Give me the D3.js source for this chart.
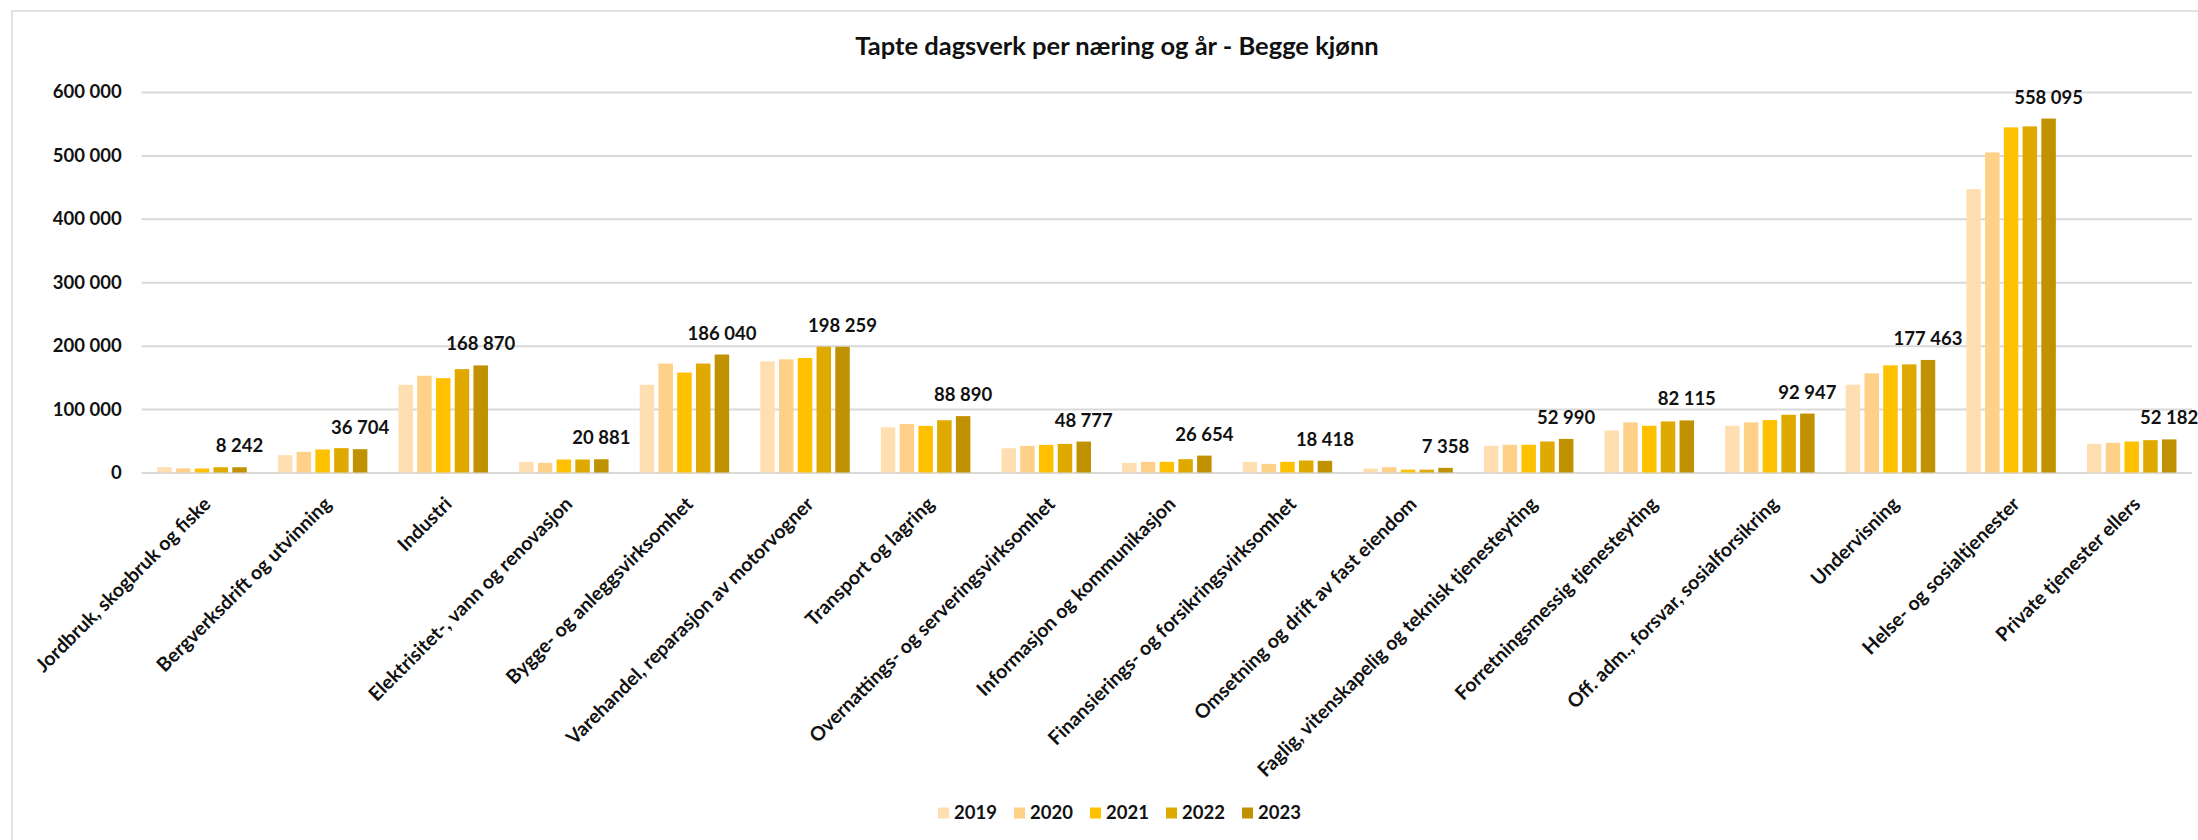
<!DOCTYPE html>
<html lang="no">
<head>
    <meta charset="UTF-8">
    <title>Tapte dagsverk per næring og år</title>
    <script src="https://cdnjs.cloudflare.com/ajax/libs/d3/7.8.5/d3.min.js"></script>
    <style>
        body { margin: 0; background: #fff; }
        text { font-family: Lato, "Open Sans", sans-serif; font-weight: 700; fill: #111; }
    </style>
</head>
<body>
    <div id="wrapper"></div>
    <script>
        // data
        const categories = [
            'Jordbruk, skogbruk og fiske',
            'Bergverksdrift og utvinning',
            'Industri',
            'Elektrisitet-, vann og renovasjon',
            'Bygge- og anleggsvirksomhet',
            'Varehandel, reparasjon av motorvogner',
            'Transport og lagring',
            'Overnattings- og serveringsvirksomhet',
            'Informasjon og kommunikasjon',
            'Finansierings- og forsikringsvirksomhet',
            'Omsetning og drift av fast eiendom',
            'Faglig, vitenskapelig og teknisk tjenesteyting',
            'Forretningsmessig tjenesteyting',
            'Off. adm., forsvar, sosialforsikring',
            'Undervisning',
            'Helse- og sosialtjenester',
            'Private tjenester ellers'
        ]
        const years = ['2019', '2020', '2021', '2022', '2023']

        const values2019 = [8500, 27300, 138300, 16800, 138300, 175300, 71400, 38300, 15200, 16800, 6300, 42100, 66300, 73700, 138400, 446800, 45300]
        const values2020 = [6500, 32600, 152500, 15200, 171800, 178500, 76600, 42000, 16800, 13600, 8400, 43700, 79000, 79000, 156300, 504700, 46800]
        const values2021 = [6300, 36300, 148800, 20500, 157600, 180600, 73500, 43600, 16800, 16800, 4500, 43700, 73700, 82600, 169000, 544200, 48900]
        const values2022 = [8300, 38400, 163000, 20500, 171800, 198400, 82400, 45100, 21000, 18900, 4500, 48900, 80500, 91000, 170500, 545800, 51000]
        const values2023 = [8242, 36704, 168870, 20881, 186040, 198259, 88890, 48777, 26654, 18418, 7358, 52990, 82115, 92947, 177463, 558095, 52182]
        const seriesValues = [values2019, values2020, values2021, values2022, values2023]
        const yTicks = [0, 100000, 200000, 300000, 400000, 500000, 600000]

        const colors = ['#FFDFB1', '#FFD087', '#FFC000', '#E0A900', '#C09100']

        const width = 2198
        const height = 840
        const plot = { left: 141.7, right: 2192, top: 92, bottom: 472.5 }

        const svg = d3.select('#wrapper')
            .append('svg')
                .attr('width', width)
                .attr('height', height)

        // chart border (continues past the picture edge)
        svg.append('rect')
            .attr('x', 12).attr('y', 11)
            .attr('width', 2300).attr('height', 900)
            .attr('fill', 'none')
            .attr('stroke', '#D9D9D9')
            .attr('stroke-width', 1.5)

        svg.append('text')
            .attr('x', 1117)
            .attr('y', 55)
            .attr('text-anchor', 'middle')
            .style('font-size', '25.5px')
            .text('Tapte dagsverk per næring og år - Begge kjønn')

        const x0 = d3.scaleBand()
            .domain(categories)
            .range([plot.left, plot.right])

        const groupWidth = 89.5
        const x1 = d3.scaleBand()
            .domain(years)
            .range([0, groupWidth])
            .paddingInner(0.227)
            .paddingOuter(0)

        const yScale = d3.scaleLinear()
            .domain([0, 600000])
            .range([plot.bottom, plot.top])

        const locale = d3.formatLocale({ decimal: ',', thousands: ' ', grouping: [3], currency: ['', ' kr'] })
        const fmt = locale.format(',d')

        // gridlines + y labels
        const yAxis = svg.append('g')
            .attr('transform', `translate(${plot.left},0)`)
            .call(d3.axisLeft(yScale)
                .tickValues(yTicks)
                .tickSize(-(plot.right - plot.left))
                .tickPadding(20)
                .tickFormat(fmt))
        yAxis.select('.domain').remove()
        yAxis.selectAll('.tick line')
            .attr('stroke', '#D9D9D9')
            .attr('stroke-width', 2)
        yAxis.selectAll('.tick text')
            .attr('fill', '#111')
            .style('font-size', '18.5px')
            .style('font-family', 'Lato, sans-serif')
            .style('font-weight', 700)

        // bars
        const rows = categories.map((c, i) => ({
            category: c,
            values: years.map((yr, j) => ({ year: yr, index: j, value: seriesValues[j][i] }))
        }))

        const offset = (x0.bandwidth() - groupWidth) / 2
        const groups = svg.append('g')
            .selectAll('g')
            .data(rows)
            .join('g')
                .attr('transform', d => `translate(${x0(d.category) + offset},0)`)

        groups.selectAll('rect')
            .data(d => d.values)
            .join('rect')
                .attr('x', d => x1(d.year))
                .attr('y', d => yScale(d.value))
                .attr('width', x1.bandwidth())
                .attr('height', d => yScale(0) - yScale(d.value))
                .attr('fill', d => colors[d.index])

        // value label on the 2023 bar
        groups.append('text')
            .attr('x', d => x1('2023') + x1.bandwidth() / 2)
            .attr('y', d => yScale(d.values[4].value) - 15)
            .attr('text-anchor', 'middle')
            .style('font-size', '18.5px')
            .text(d => fmt(d.values[4].value))

        // category labels, rotated
        svg.append('g')
            .selectAll('text')
            .data(categories)
            .join('text')
                .attr('transform', d => `translate(${x0(d) + x0.bandwidth() / 2 + 5},${plot.bottom + 28}) rotate(-45)`)
                .attr('text-anchor', 'end')
                .attr('dy', '0.35em')
                .style('font-size', '19.5px')
                .text(d => d)

        // legend
        const legend = svg.append('g')
            .attr('transform', 'translate(938,813)')
        const items = legend.selectAll('g')
            .data(years)
            .join('g')
                .attr('transform', (d, i) => `translate(${i * 76},0)`)
        items.append('rect')
            .attr('x', 0).attr('y', -5.5)
            .attr('width', 11).attr('height', 11)
            .attr('fill', (d, i) => colors[i])
        items.append('text')
            .attr('x', 16)
            .attr('dy', '0.35em')
            .style('font-size', '18.5px')
            .text(d => d)
    </script>
</body>
</html>
